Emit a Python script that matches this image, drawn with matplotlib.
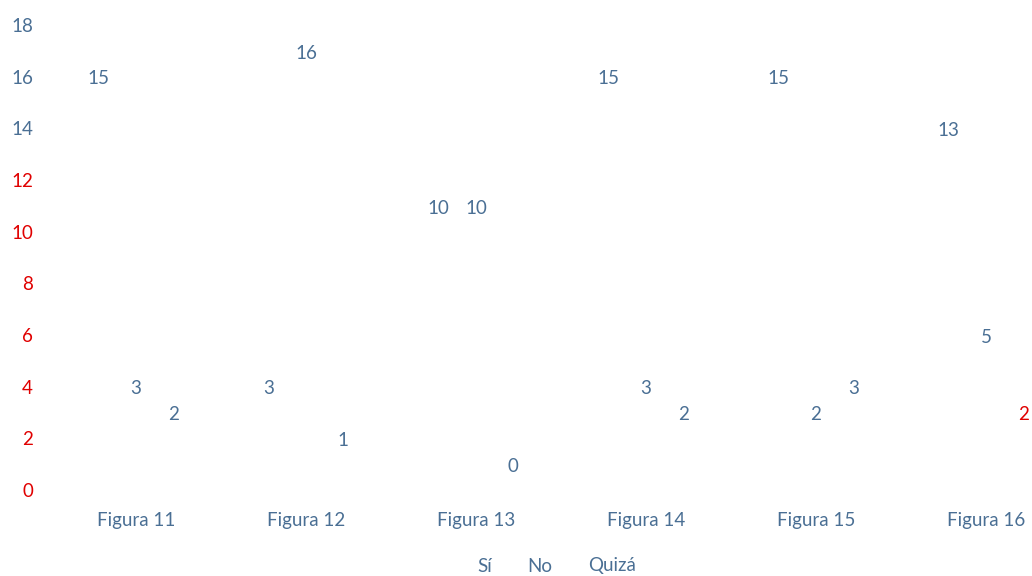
import matplotlib
matplotlib.use("Agg")
import matplotlib.pyplot as plt
import numpy as np

categories = ["Figura 11", "Figura 12", "Figura 13", "Figura 14", "Figura 15", "Figura 16"]
series_names = ["Sí", "No", "Quizá"]
si = [15, 3, 10, 15, 15, 13]
no = [3, 16, 10, 3, 2, 5]
quiza = [2, 1, 0, 2, 3, 2]
y_ticks = [0, 2, 4, 6, 8, 10, 12, 14, 16, 18]

BLUE = "#4A6F94"
RED = "#E00000"
FS = 13.5

plt.rcParams["font.family"] = ["Lato", "DejaVu Sans"]

fig = plt.figure(figsize=(10.32, 5.76), dpi=100)
ax = fig.add_axes([51 / 1032, 86 / 576, 1020 / 1032, 465 / 576])

x = np.arange(len(categories))
offset = 0.22
width = 0.2
series = [si, no, quiza]
bars = []
for i, (name, vals) in enumerate(zip(series_names, series)):
    pos = x + (i - 1) * offset
    b = ax.bar(pos, vals, width, color="none", edgecolor="none", label=name)
    bars.append(b)
    for j, (px, v) in enumerate(zip(pos, vals)):
        col = RED if (j == len(categories) - 1 and i == 2) else BLUE
        ax.annotate(str(v), (px, v), xytext=(0, 17), textcoords="offset points",
                    ha="center", va="center", fontsize=FS, color=col)

ax.set_xlim(-0.5, 5.5)
ax.set_ylim(0, 18)
ax.set_yticks(y_ticks)
ax.set_yticklabels([str(t) for t in y_ticks])
for t, lab in zip(y_ticks, ax.get_yticklabels()):
    lab.set_color(RED if t <= 12 else BLUE)
ax.set_xticks(x)
ax.set_xticklabels(categories, color=BLUE)
ax.tick_params(axis="y", length=0, pad=13, labelsize=FS)
ax.tick_params(axis="x", length=0, pad=16, labelsize=FS)
for s in ax.spines.values():
    s.set_visible(False)

leg = fig.legend(handles=bars, labels=series_names, loc="center",
                 bbox_to_anchor=(548 / 1032, 1 - 566 / 576), ncol=3,
                 frameon=False, fontsize=FS, handlelength=0.6,
                 handletextpad=0.3, columnspacing=1.0)
for t in leg.get_texts():
    t.set_color(BLUE)

fig.savefig("out.png", dpi=100)
